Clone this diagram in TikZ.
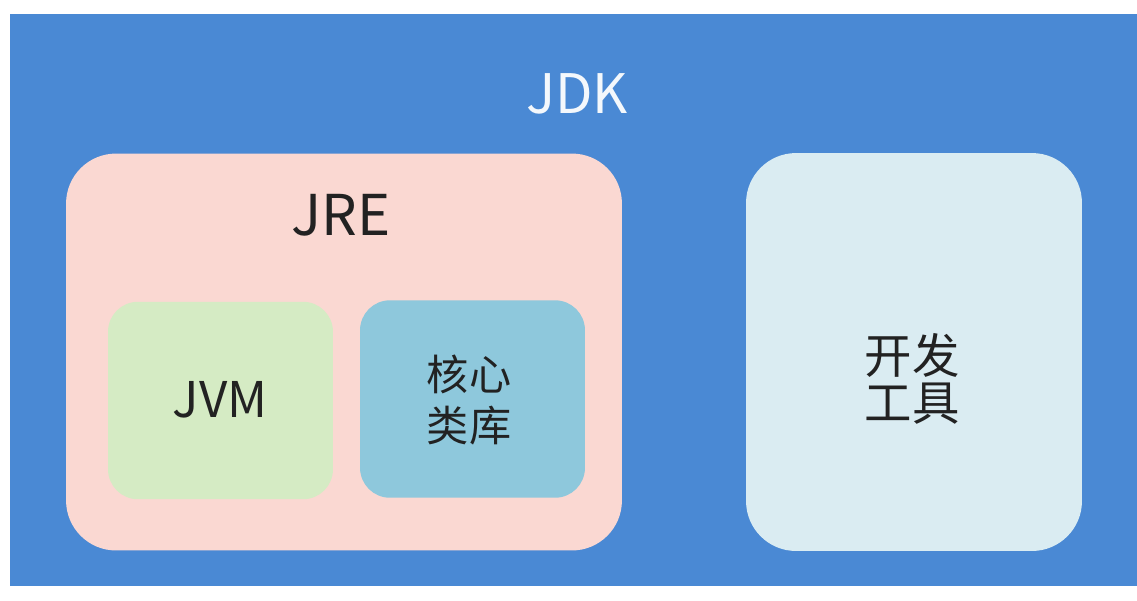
\documentclass[tikz,border=0pt]{standalone}
\usepackage{fontspec}
\setmainfont{Noto Sans CJK SC}
\usepackage{xcolor}
\usetikzlibrary{positioning}
\definecolor{jdkblue}{RGB}{74, 137, 212}
\definecolor{jrepink}{RGB}{250, 216, 210}
\definecolor{jvmgreen}{RGB}{213, 235, 196}
\definecolor{libteal}{RGB}{142, 200, 220}
\definecolor{toolblue}{RGB}{218, 236, 242}
\definecolor{labeltext}{RGB}{34, 34, 34}
\tikzset{
  panel/.style={draw=none, rounded corners=1cm, inner sep=0pt},
  subpanel/.style={draw=none, rounded corners=0.6cm, inner sep=0pt,
                   minimum width=4.5cm, minimum height=3.95cm},
  caption/.style={text=labeltext, inner sep=0pt, align=center}
}

\begin{document}
\begin{tikzpicture}[x=0.02cm, y=-0.02cm]
  % Frame
  \fill[white] (0, 0) rectangle (1137, 600);
  \useasboundingbox (0, 0) rectangle (1137, 600);
  \fill[jdkblue] (10, 14) rectangle (1137, 586);
  \node[text=white!94!jdkblue, font=\fontsize{31}{31}\selectfont] (jdk) at (577, 94) {JDK};

  % JRE
  \node[panel, fill=jrepink, minimum width=11.12cm, minimum height=7.94cm] (jre) at (344, 352) {};
  \node[caption, font=\fontsize{32}{32}\selectfont] (jrelabel) at (341, 215) {JRE};

  % JVM and core libraries
  \node[subpanel, fill=jvmgreen] (jvm) at (220.5, 400.5) {};
  \node[caption, font=\fontsize{28}{28}\selectfont] (jvmlabel) at (220, 400) {JVM};
  \node[subpanel, fill=libteal] (lib) at (472.5, 399) {};
  \node[caption, font=\fontsize{24}{28.5}\selectfont] (liblabel) at (469, 400) {核心\\类库};

  % Development tools
  \node[panel, fill=toolblue, minimum width=6.72cm, minimum height=7.96cm] (tools) at (914, 352) {};
  \node[caption, font=\fontsize{27}{27}\selectfont] (toollabel) at (912, 379) {开发\\工具};
\end{tikzpicture}
\end{document}
